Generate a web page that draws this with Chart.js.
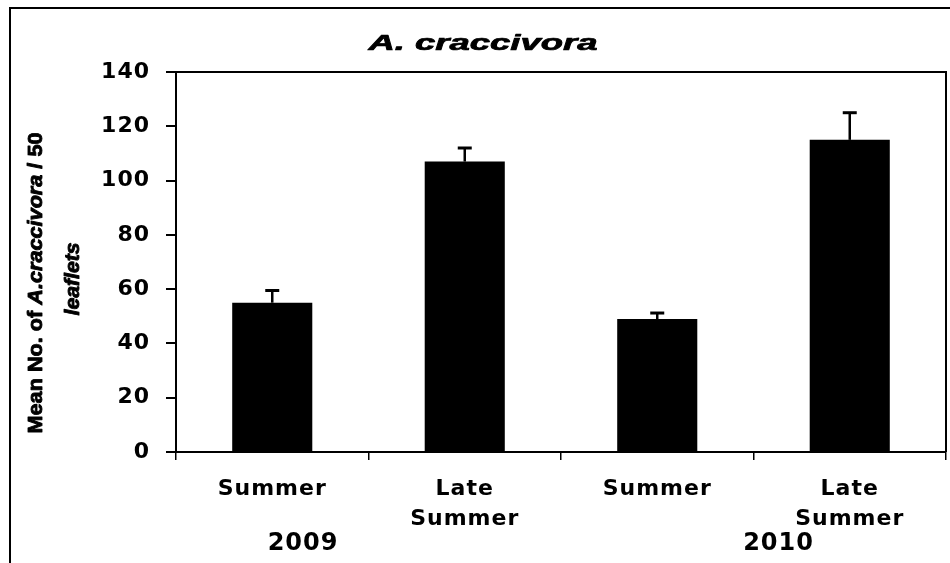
<!DOCTYPE html>
<html>
<head>
<meta charset="utf-8">
<script src="https://cdn.jsdelivr.net/npm/chart.js@4.4.1/dist/chart.umd.min.js"></script>
<style>
html,body{margin:0;padding:0;background:#fff;}
#wrap{width:950px;height:563px;position:relative;}
</style>
</head>
<body>
<div id="wrap"><canvas id="c" width="950" height="563"></canvas></div>
<script>
// ---- data ----
const categories = ['Summer', ['Late', 'Summer'], 'Summer', ['Late', 'Summer']];
const meanCounts = [55, 107, 49, 115];
const errorValues = [4.5, 5, 2.2, 10];
const years = ['2009', '2010'];
const yearPositions = [0.16, 2.63];
const yMin = 0, yMax = 140, yStep = 20;
const titleText = 'A. craccivora';
const yTitleLine1 = [['Mean No. of ', false], ['A.craccivora', true], [' / 50', false]];
const yTitleLine2 = [['leaflets', true]];

const TICK_FONT = 'DejaVu Sans';
const SPACING = '1px';

const paperPlugin = {
  id: 'paper',
  beforeLayout(chart) { chart.ctx.letterSpacing = SPACING; },
  beforeDraw(chart) {
    const c = chart.ctx;
    c.save();
    c.fillStyle = '#fff';
    c.fillRect(0, 0, chart.width, chart.height);
    c.restore();
    c.letterSpacing = SPACING;
  },
  afterDraw(chart) {
    const c = chart.ctx;
    const a = chart.chartArea;
    c.save();
    c.letterSpacing = '0px';
    c.strokeStyle = '#000';
    // outer frame (top and left)
    c.lineWidth = 2;
    c.beginPath();
    c.moveTo(10, chart.height + 2);
    c.lineTo(10, 8);
    c.lineTo(chart.width + 2, 8);
    c.stroke();
    // plot box top and right
    c.lineWidth = 2;
    c.beginPath();
    c.moveTo(a.left, a.top);
    c.lineTo(a.right, a.top);
    c.lineTo(a.right, a.bottom);
    c.stroke();

    // title (stretched Arial-like bold italic)
    c.fillStyle = '#000';
    c.font = 'italic bold 22px "Liberation Sans", Arial, sans-serif';
    c.textBaseline = 'alphabetic';
    c.textAlign = 'left';
    const tw = c.measureText(titleText).width;
    const targetW = 229;
    const sx = targetW / tw;
    c.save();
    c.translate(483 - targetW / 2, 50);
    c.scale(sx, 1);
    c.lineWidth = 0.7;
    c.lineJoin = 'round';
    c.fillText(titleText, 0, 0);
    c.strokeText(titleText, 0, 0);
    c.restore();

    // y axis title (rotated, mixed italic)
    const drawRot = (segs, x, yc, len) => {
      c.save();
      let total = 0;
      const fontOf = (it) => (it ? 'italic ' : '') + 'bold 21px "Liberation Sans", Arial, sans-serif';
      const widths = segs.map(([t, it]) => {
        c.font = fontOf(it);
        const w = c.measureText(t).width; total += w; return w;
      });
      const s = len / total;
      c.translate(x, yc);
      c.rotate(-Math.PI / 2);
      c.scale(s, 1);
      c.lineWidth = 0.9;
      c.lineJoin = 'round';
      let px = -total / 2;
      segs.forEach(([t, it], i) => {
        c.font = fontOf(it);
        c.fillText(t, px, 0);
        c.strokeText(t, px, 0);
        px += widths[i];
      });
      c.restore();
    };
    drawRot(yTitleLine1, 42, 283, 301);
    drawRot(yTitleLine2, 79, 279, 73);

    // year labels
    const xs = chart.scales.x;
    c.font = 'bold 24px "' + TICK_FONT + '", sans-serif';
    c.letterSpacing = '1px';
    c.textAlign = 'center';
    years.forEach((yr, i) => {
      c.fillText(yr, xs.getPixelForValue(yearPositions[i]), 550);
    });
    c.restore();
  }
};

const errorBarPlugin = {
  id: 'errorBars',
  afterDatasetsDraw(chart) {
    const c = chart.ctx;
    const ys = chart.scales.y;
    const meta = chart.getDatasetMeta(0);
    c.save();
    c.strokeStyle = '#000';
    meta.data.forEach((bar, i) => {
      const top = ys.getPixelForValue(meanCounts[i] + errorValues[i]);
      c.lineWidth = 2.5;
      c.beginPath();
      c.moveTo(bar.x, bar.y);
      c.lineTo(bar.x, top);
      c.stroke();
      c.lineWidth = 3;
      c.beginPath();
      c.moveTo(bar.x - 7, top);
      c.lineTo(bar.x + 7, top);
      c.stroke();
    });
    c.restore();
  }
};

new Chart(document.getElementById('c'), {
  type: 'bar',
  data: {
    labels: categories,
    datasets: [{
      data: meanCounts,
      backgroundColor: '#000',
      borderColor: '#000',
      borderWidth: 0,
      barPercentage: 0.416,
      categoryPercentage: 1.0
    }]
  },
  options: {
    responsive: false,
    animation: false,
    devicePixelRatio: 1,
    layout: { padding: { left: 0, top: 72, right: 4, bottom: 0 } },
    plugins: {
      legend: { display: false },
      title: { display: false },
      tooltip: { enabled: false }
    },
    scales: {
      x: {
        grid: { display: true, drawOnChartArea: false, drawTicks: true, tickLength: 8, color: '#000', lineWidth: 1.5 },
        border: { display: true, color: '#000', width: 2 },
        ticks: {
          color: '#000',
          font: { family: TICK_FONT, weight: 'bold', size: 22, lineHeight: 1.37 },
          padding: 14,
          maxRotation: 0,
          autoSkip: false
        },
        afterFit(s) { s.height = 111; }
      },
      y: {
        min: yMin, max: yMax,
        grid: { display: true, drawOnChartArea: false, drawTicks: true, tickLength: 10, color: '#000', lineWidth: 2 },
        border: { display: true, color: '#000', width: 2 },
        ticks: {
          stepSize: yStep,
          color: '#000',
          font: { family: TICK_FONT, weight: 'bold', size: 22 },
          padding: 16
        },
        afterFit(s) { s.width = 176; }
      }
    }
  },
  plugins: [paperPlugin, errorBarPlugin]
});
</script>
</body>
</html>
